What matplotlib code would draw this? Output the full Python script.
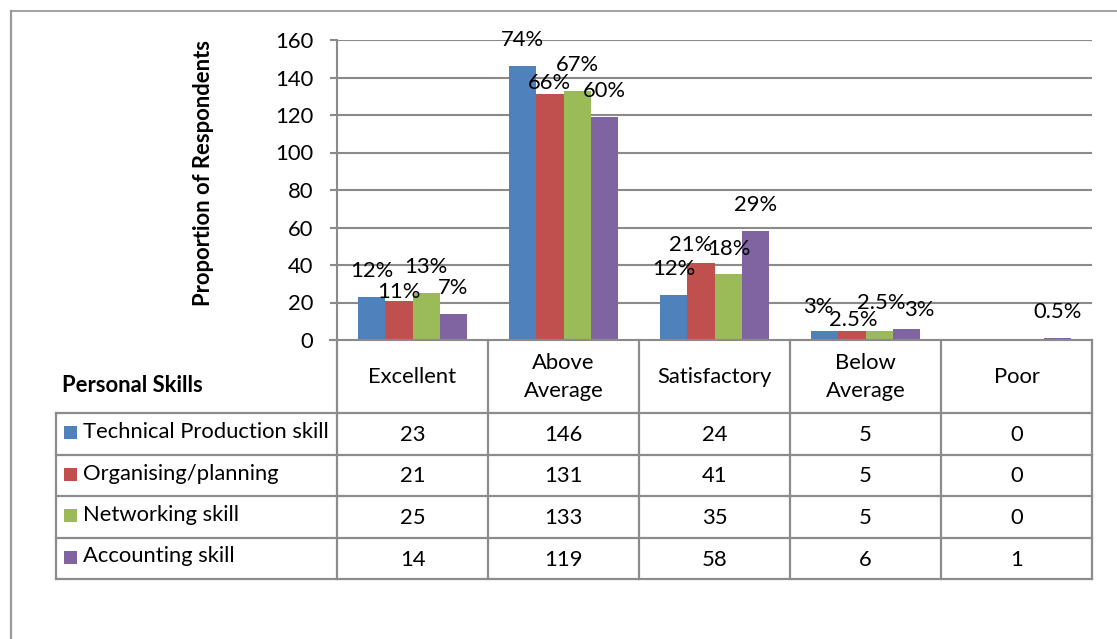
import matplotlib
matplotlib.use("Agg")
import matplotlib.pyplot as plt
from matplotlib.patches import Rectangle
from matplotlib.lines import Line2D
import numpy as np

plt.rcParams['font.family'] = ['Lato', 'DejaVu Sans']

# ---- data ----
categories = ["Excellent", "Above\nAverage", "Satisfactory", "Below\nAverage", "Poor"]
series_names = ["Technical Production skill", "Organising/planning", "Networking skill", "Accounting skill"]
technical = [23, 146, 24, 5, 0]
organising = [21, 131, 41, 5, 0]
networking = [25, 133, 35, 5, 0]
accounting = [14, 119, 58, 6, 1]
pct_technical = ["12%", "74%", "12%", "3%", ""]
pct_organising = ["11%", "66%", "21%", "2.5%", ""]
pct_networking = ["13%", "67%", "18%", "2.5%", ""]
pct_accounting = ["7%", "60%", "29%", "3%", "0.5%"]
y_ticks = [0, 20, 40, 60, 80, 100, 120, 140, 160]
y_title = "Proportion of Respondents"
table_title = "Personal Skills"

values = [technical, organising, networking, accounting]
pcts = [pct_technical, pct_organising, pct_networking, pct_accounting]
colors = ["#4F81BD", "#C0504D", "#9BBB59", "#8064A2"]

# label offsets (pixels) relative to bar top centre (layout only)
label_offsets = [
    [(0, 26), (0, 26), (0, 26), (-6, 24), (0, 26)],
    [(0, 9), (0, 11), (-10, 18), (1, 11), (0, 26)],
    [(0, 26), (0, 26), (1, 25), (2, 28), (0, 26)],
    [(0, 26), (0, 26), (0, 26), (13, 19), (0, 26)],
]

W, H = 1117, 639
fig = plt.figure(figsize=(W / 100, H / 100), dpi=100)
fig.patch.set_facecolor("white")

grid_c = "#8A8A8A"
FS = 15.8

# plot area in pixels
L, R, T, B = 337, 1092, 40, 340
ax = fig.add_axes([L / W, 1 - B / H, (R - L) / W, (B - T) / H])
ncat = len(categories)
x = np.arange(ncat)
bw = 27.3 / 151
for j, (vals, c) in enumerate(zip(values, colors)):
    pos = x + (j - 1.5) * bw
    ax.bar(pos, vals, width=bw, color=c, edgecolor="none", zorder=3)
    for i, (xp, v, t) in enumerate(zip(pos, vals, pcts[j])):
        if t:
            dx, dy = label_offsets[j][i]
            ax.annotate(t, xy=(xp, v), xytext=(dx, dy), textcoords="offset pixels",
                        ha="center", va="center", fontsize=FS, zorder=5,
                        annotation_clip=False)

ax.set_xlim(-0.5, ncat - 0.5)
ax.set_ylim(0, 160)
ax.set_yticks(y_ticks)
ax.set_yticklabels([str(t) for t in y_ticks], fontsize=FS)
ax.set_xticks([])
for yt in y_ticks[1:]:
    ax.axhline(yt, color=grid_c, lw=1.5, zorder=1)
for s in ["top", "right", "bottom"]:
    ax.spines[s].set_visible(False)
ax.spines["left"].set_color(grid_c)
ax.spines["left"].set_linewidth(1.5)
ax.tick_params(axis="y", length=5, width=1.5, color=grid_c, pad=12)
ax.patch.set_alpha(0)

# overlay axes in pixel coordinates for table and frame
ov = fig.add_axes([0, 0, 1, 1], zorder=-1)
ov.set_xlim(0, W)
ov.set_ylim(H, 0)
ov.axis("off")

# outer frame
ov.add_line(Line2D([10.5, 10.5], [H + 5, 11], color="#9A9A9A", lw=1.6))
ov.add_line(Line2D([10.5, W + 5], [11, 11], color="#9A9A9A", lw=1.3))

ov2 = fig.add_axes([0, 0, 1, 1], zorder=5)
ov2.set_xlim(0, W)
ov2.set_ylim(H, 0)
ov2.axis("off")

tc = "#8C8C8C"
tlw = 1.6
col_w = (R - L) / ncat
col_edges = [L + col_w * i for i in range(ncat + 1)]
row_edges = [413, 455, 496, 538, 579]
TL = 56
# x axis (0 line) across the header row top
ov2.add_line(Line2D([L - 7, R], [B, B], color=grid_c, lw=1.5))
# header verticals
for xe in col_edges:
    ov2.add_line(Line2D([xe, xe], [B, row_edges[-1]], color=tc, lw=tlw))
# row lines
for ye in row_edges:
    ov2.add_line(Line2D([TL, R], [ye, ye], color=tc, lw=tlw))
ov2.add_line(Line2D([TL, TL], [row_edges[0], row_edges[-1]], color=tc, lw=tlw))

# header text
for i, cat in enumerate(categories):
    ov2.text(L + col_w * (i + 0.5), 377, cat, ha="center", va="center",
             fontsize=FS, linespacing=1.45)
ov2.text(62, 385, table_title, ha="left", va="center", fontsize=FS, fontweight="bold")

# rows
for r, (name, vals, c) in enumerate(zip(series_names, values, colors)):
    yc = (row_edges[r] + row_edges[r + 1]) / 2
    ov2.add_patch(Rectangle((64, yc - 8), 13, 13, facecolor=c, edgecolor="none"))
    ov2.text(83, yc - 2, name, ha="left", va="center", fontsize=FS)
    for i, v in enumerate(vals):
        ov2.text(L + col_w * (i + 0.5), yc + 1, str(v), ha="center", va="center", fontsize=FS)

fig.text(204 / W, 1 - 173 / H, y_title, rotation=90, ha="center", va="center",
         fontsize=FS, fontweight="bold")

fig.savefig("out.png", dpi=100, facecolor="white")
